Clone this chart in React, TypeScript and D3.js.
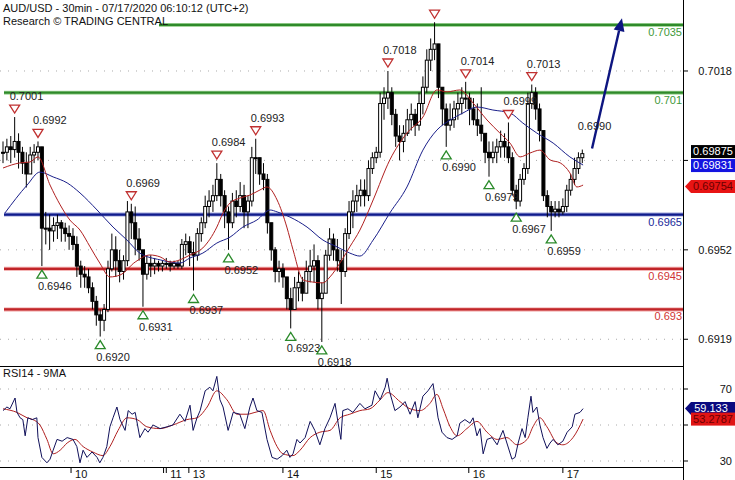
import * as d3 from "d3";

// hourly candles, values in pips above 0.6900
const highs = [
  92, 93, 94, 101, 95, 90, 88, 90, 91, 92, 90, 66, 65, 64, 65, 63, 62, 61, 60, 57,
  48, 46, 45, 40, 35, 30, 32, 48, 58, 57, 52, 50, 70, 69, 68, 60, 52, 50, 50, 49,
  48, 48, 49, 48, 48, 48, 56, 58, 57, 55, 60, 64, 72, 74, 76, 84, 80, 74, 68, 73,
  74, 77, 76, 72, 90, 93, 86, 84, 80, 62, 53, 48, 47, 42, 38, 42, 44, 42, 48, 52,
  54, 50, 40, 52, 60, 58, 56, 52, 60, 70, 74, 76, 78, 78, 85, 88, 90, 110, 112, 118,
  112, 104, 98, 98, 104, 106, 104, 110, 116, 126, 130, 136, 128, 112, 106, 106, 107, 110, 112, 114,
  110, 108, 106, 112, 95, 92, 92, 93, 96, 95, 99, 88, 76, 80, 84, 110, 113, 112, 106, 96,
  74, 70, 70, 70, 71, 76, 80, 86, 88, 89,
];
const lows = [
  84, 85, 84, 86, 82, 80, 75, 80, 84, 85, 46, 54, 52, 55, 56, 55, 55, 52, 52, 42,
  38, 38, 36, 30, 24, 20, 22, 29, 44, 42, 40, 41, 46, 56, 50, 48, 31, 41, 42, 43,
  44, 44, 45, 44, 45, 45, 45, 50, 46, 37, 48, 55, 60, 64, 66, 70, 68, 60, 52, 60,
  64, 66, 60, 60, 68, 80, 76, 74, 58, 48, 40, 40, 38, 30, 23, 30, 33, 33, 36, 40,
  40, 30, 18, 36, 48, 48, 44, 32, 42, 56, 60, 66, 68, 68, 70, 80, 84, 86, 100, 104,
  98, 90, 85, 88, 94, 96, 94, 96, 102, 110, 118, 122, 108, 98, 90, 96, 97, 100, 102, 104,
  98, 98, 94, 92, 84, 79, 84, 84, 86, 86, 84, 72, 67, 68, 76, 80, 104, 100, 92, 70,
  64, 59, 64, 64, 65, 66, 72, 76, 80, 84,
];
const closes = [
  88, 90, 89, 92, 88, 84, 80, 87, 88, 90, 60, 60, 59, 61, 62, 60, 58, 57, 54, 46,
  43, 42, 38, 33, 28, 26, 30, 45, 52, 48, 44, 48, 66, 62, 56, 52, 43, 47, 46, 47,
  46, 47, 47, 46, 47, 46, 54, 55, 51, 50, 58, 62, 68, 70, 72, 78, 72, 66, 62, 70,
  68, 72, 66, 70, 86, 86, 80, 78, 62, 52, 44, 45, 42, 34, 30, 38, 40, 36, 44, 46,
  48, 34, 36, 50, 56, 52, 48, 44, 58, 66, 70, 72, 74, 72, 82, 86, 88, 106, 108, 110,
  102, 94, 92, 95, 100, 102, 98, 106, 112, 122, 126, 128, 112, 104, 98, 100, 104, 106, 108, 108,
  104, 100, 98, 95, 88, 86, 88, 90, 92, 90, 86, 74, 70, 78, 82, 106, 110, 104, 96, 72,
  68, 66, 67, 66, 68, 74, 78, 82, 86, 87.5,
];

// moving averages on price: [bar, pips]
const redMA: [number, number][] = [
  [0, 82.2], [4.4, 84.1], [6.9, 84.4], [9, 86.3], [12.1, 75.9], [14.7, 68.6], [17.2, 63],
  [19.8, 59.3], [22.4, 53.1], [24.9, 47.1], [27.5, 42], [30.1, 42.7], [34, 47.5], [37.8, 50.1],
  [40.4, 49.4], [43, 47.5], [45.5, 48.3], [48.1, 50.1], [51.4, 52.7], [55, 60.4], [56.6, 65.6],
  [58.4, 69.3], [60.9, 71.1], [63.5, 72.2], [66.1, 74.1], [67.9, 75.2], [70.5, 70.4], [73, 60.4],
  [74.6, 52], [77.2, 40.9], [79.7, 40.1], [82.3, 39.8], [84.1, 42], [86.7, 47.2], [89.2, 53.1],
  [91.8, 59.3], [95.2, 70.4], [99.5, 85.2], [103.9, 95.1], [108, 101], [111.6, 111], [114.2, 110.3],
  [117.5, 111], [120.9, 106.2], [124.5, 99.9], [127.8, 95.1], [130.4, 91.4], [133, 86.3],
  [135.5, 87.7], [138.1, 88.8], [140.7, 85.2], [143.3, 84.1], [145.8, 80.4], [147.6, 75.2], [149.2, 75.9],
];
const blueMA: [number, number][] = [
  [0.5, 65.6], [6.2, 75.9], [9.5, 80.7], [12.9, 78.9], [16.5, 76.7], [19.8, 73], [24.2, 66.7],
  [28.3, 60.4], [31.9, 55.6], [35.2, 50.8], [40.4, 48.3], [45.5, 47.1], [48.1, 49], [51.4, 50.8],
  [55, 54.5], [58.4, 56.7], [61.7, 60.4], [65.3, 63], [68.7, 66.7], [70.5, 66], [73.8, 64.1],
  [78.2, 60.4], [82.3, 55.6], [85.9, 53.1], [89.2, 50.8], [91.8, 49.7], [95.2, 55.6], [99.5, 65.6],
  [103.9, 75.2], [108, 88.8], [111.6, 96.2], [115, 99.9], [118.3, 102.5], [121.9, 104.7],
  [126, 103.6], [130.4, 102.5], [133.7, 98.8], [137.3, 95.1], [141.5, 91.4], [145.8, 86.3], [149.2, 83.3],
];

// RSI14 and its 9MA: [bar, value]
const rsi: [number, number][] = [
  [0, 58], [1, 60], [1.8, 59], [3.1, 65], [3.6, 57], [4.4, 54], [5.1, 53], [5.7, 44], [6.4, 54],
  [7.5, 53], [8.7, 54], [9, 43], [10, 32], [11.3, 29], [12.1, 31], [12.9, 36], [13.9, 42],
  [15.2, 41], [16.5, 43], [18, 42], [19, 38], [19.8, 29], [20.6, 36], [21.6, 32], [22.9, 35],
  [24.2, 32], [24.9, 29], [25.7, 32], [26.7, 38], [27.5, 49], [28.3, 54], [29.3, 60], [30.1, 53],
  [31.4, 47], [32.2, 58], [33.2, 56], [34, 57], [35.2, 43], [36.5, 48], [37.3, 46], [38.6, 50],
  [40.4, 48], [42.2, 49], [43.7, 50], [45.5, 56], [46.8, 52], [48.1, 61], [48.9, 47], [49.9, 54],
  [50.7, 58], [52, 69], [53.2, 71], [54, 69], [55, 77], [55.8, 64], [56.6, 60], [57.9, 47],
  [59.2, 57], [60.9, 56], [62.2, 48], [63.5, 60], [64.3, 65], [65.3, 58], [66.6, 57], [67.9, 42],
  [69.2, 32], [70.5, 31], [71.8, 33], [73, 36], [73.8, 32], [74.6, 34], [75.6, 42], [76.4, 40],
  [77.7, 43], [79, 52], [80.2, 47], [81.5, 39], [82.8, 48], [84.1, 54], [85.4, 62], [86.2, 51],
  [86.9, 42], [87.4, 58], [88.7, 59], [90, 57], [91.8, 62], [93.1, 59], [94.9, 61], [95.7, 69],
  [97, 64], [98.3, 71], [98.8, 76], [99.5, 68], [100.8, 58], [102.1, 60], [103.4, 63], [104.7, 56],
  [106, 63], [106.7, 54], [108, 66], [109.3, 69], [110.6, 73], [111.1, 66], [111.9, 54], [112.9, 46],
  [114.2, 43], [115.5, 42], [116.8, 44], [117.5, 51], [118.8, 53], [120.1, 51], [120.9, 54],
  [121.9, 44], [122.7, 48], [123.5, 34], [124.5, 42], [125.8, 43], [127.1, 39], [127.8, 43],
  [128.6, 47], [129.6, 40], [130.9, 31], [131.7, 32], [132.5, 40], [133.5, 48], [134.3, 43],
  [135, 54], [135.8, 66], [136.3, 57], [137.3, 60], [138.1, 50], [138.9, 43], [139.9, 37],
  [140.7, 40], [141.5, 42], [142.7, 39], [144, 41], [145.1, 46], [146.4, 49], [147.1, 56],
  [148.4, 57], [149.2, 59.1],
];
const rsiMA: [number, number][] = [
  [0, 59], [3.6, 57], [6.2, 54], [7.7, 53], [9.5, 50], [11.3, 42], [12.9, 34], [14.7, 36],
  [16.5, 40], [18.5, 42], [20.6, 38], [23.1, 35], [25.7, 33], [27.5, 38], [29.6, 47], [31.9, 54],
  [34.5, 53], [37, 49], [40.4, 48], [43.7, 50], [47.3, 53], [49.9, 54], [52.5, 60], [55, 69],
  [57.6, 64], [60.2, 56], [62.8, 56], [64.8, 57], [66.9, 58], [68.7, 47], [70.5, 38], [72, 34],
  [74.6, 33], [76.4, 36], [79, 43], [81.5, 46], [84.1, 47], [86.7, 54], [89.2, 56], [91.8, 58],
  [94.4, 59], [97, 64], [99, 68], [102.1, 63], [104.7, 59], [107.3, 58], [109.8, 62], [111.6, 67],
  [113.2, 59], [115, 49], [116.8, 44], [119.3, 48], [121.9, 52], [124.5, 46], [127.1, 42],
  [129.6, 43], [132.2, 39], [134.8, 42], [136.3, 49], [138.1, 54], [139.9, 49], [142.5, 40],
  [144, 39], [146.6, 43], [149.2, 53.3],
];

// support / resistance levels
const levelPrices = [0.7035, 0.701, 0.6965, 0.6945, 0.693];
const levelLabels = ["0.7035", "0.701", "0.6965", "0.6945", "0.693"];
const levelKinds = ["res", "res", "pivot", "sup", "sup"];

// swing markers
const markerBars = [3, 9, 10, 25, 33, 36, 49, 55, 58, 65, 74, 82, 99, 111, 114, 119, 125, 130, 132, 136, 141];
const markerKinds = ["H", "H", "L", "L", "H", "L", "L", "H", "L", "H", "L", "L", "H", "H", "L", "H", "L", "H", "L", "H", "L"];
const markerLabels = [
  "0.7001", "0.6992", "0.6946", "0.6920", "0.6969", "0.6931", "0.6937", "0.6984", "0.6952", "0.6993",
  "0.6923", "0.6918", "0.7018", "", "0.6990", "0.7014", "0.6979", "0.6999", "0.6967", "0.7013", "0.6959",
];

// axis ticks (labels hidden behind the value tags are left empty)
const priceTicks = [0.7018, 0.6985, 0.6952, 0.6919];
const priceTickLabels = ["0.7018", "", "0.6952", "0.6919"];
const rsiTicks = [70, 50, 30];
const rsiTickLabels = ["70", "", "30"];
const dayTickBars = [17.5, 41.3, 42, 47.8, 72, 96, 119.8, 144];
const dayTickLabels = ["10", "", "11", "13", "14", "15", "16", "17"];

const lastClose = 0.69875;
const lastBlue = 0.69831;
const lastRed = 0.69754;
const lastRsi = 59.133;
const lastRsiMA = 53.2787;
const targetLabel = "0.6990";
const forecast: [number, number][] = [[151.5, 89.4], [159.2, 137.5]];

export default function App() {
  const W = 735;
  const H = 480;
  const axisX = 683;
  const font = "'Liberation Sans', Arial, sans-serif";
  const x = d3.scaleLinear().domain([0, 150]).range([3, 586.2]);
  const y = d3.scaleLinear().domain([0.69095, 0.70442]).range([365, 0]);
  const yr = d3.scaleLinear().domain([26.67, 82.78]).range([467, 366]);
  const px = (p: number) => 0.69 + p / 10000;
  const bw = 3;

  const candles = closes.map((c, i) => ({
    i,
    o: i === 0 ? c : closes[i - 1],
    h: highs[i],
    l: lows[i],
    c,
  }));

  const maLine = d3
    .line<[number, number]>()
    .x((d) => x(d[0]))
    .y((d) => y(px(d[1])))
    .curve(d3.curveMonotoneX);
  const rsiLine = d3
    .line<[number, number]>()
    .x((d) => x(d[0]))
    .y((d) => yr(d[1]));
  const rsiMALine = d3
    .line<[number, number]>()
    .x((d) => x(d[0]))
    .y((d) => yr(d[1]))
    .curve(d3.curveMonotoneX);

  const levelColor: Record<string, [string, string, string]> = {
    res: ["#2f8a2a", "#a8d8a0", "#3f9a3a"],
    pivot: ["#101c8c", "#9aa0d8", "#1a2a9a"],
    sup: ["#c02428", "#f0a0a0", "#d03434"],
  };

  // forecast arrow
  const [fa, fb] = forecast;
  const ax1 = x(fa[0]), ay1 = y(px(fa[1]));
  const ax2 = x(fb[0]), ay2 = y(px(fb[1]));
  const ang = Math.atan2(ay2 - ay1, ax2 - ax1);
  const headLen = 13, headW = 5.5;
  const bx = ax2 - headLen * Math.cos(ang);
  const by = ay2 - headLen * Math.sin(ang);
  const head = [
    [ax2, ay2],
    [bx + headW * Math.sin(ang), by - headW * Math.cos(ang)],
    [bx - headW * Math.sin(ang), by + headW * Math.cos(ang)],
  ]
    .map((p) => p.join(","))
    .join(" ");

  const yBlue = y(lastBlue);
  const yRed = y(lastRed);
  const yClose = Math.min(y(lastClose), yBlue - 14);

  const arrowTag = (cy: number) =>
    `M685,${cy} L691,${cy - 6.5} L735,${cy - 6.5} L735,${cy + 6.5} L691,${cy + 6.5} Z`;

  return (
    <svg
      width={W}
      height={H}
      style={{ position: "absolute", left: 0, top: 0, background: "#fff" }}
      fontFamily={font}
      fontSize={11}
    >
      <defs>
        <clipPath id="pricePanel">
          <rect x={0} y={0} width={axisX} height={366} />
        </clipPath>
        <clipPath id="rsiPanel">
          <rect x={0} y={367} width={axisX} height={100} />
        </clipPath>
      </defs>
      <rect width={W} height={H} fill="#fff" />

      {/* grid */}
      {priceTicks.map((t) => (
        <line key={"pg" + t} x1={0} x2={axisX} y1={y(t)} y2={y(t)} stroke="#aaa" strokeDasharray="1 7" />
      ))}
      {rsiTicks.map((t) => (
        <line key={"rg" + t} x1={0} x2={axisX} y1={yr(t)} y2={yr(t)} stroke="#aaa" strokeDasharray="1 7" />
      ))}

      <g clipPath="url(#pricePanel)">
        {/* levels */}
        {levelPrices.map((p, k) => {
          const [c, halo] = levelColor[levelKinds[k]];
          return (
            <g key={"lv" + k}>
              <line x1={4} x2={axisX} y1={y(p)} y2={y(p)} stroke={halo} strokeWidth={4} />
              <line x1={4} x2={axisX} y1={y(p)} y2={y(p)} stroke={c} strokeWidth={2.2} />
            </g>
          );
        })}

        {/* candles */}
        {candles.map((d) => {
          const top = y(px(Math.max(d.o, d.c)));
          const bot = y(px(Math.min(d.o, d.c)));
          const up = d.c > d.o;
          return (
            <g key={"c" + d.i}>
              <line x1={x(d.i)} x2={x(d.i)} y1={y(px(d.h))} y2={y(px(d.l))} stroke="#000" strokeWidth={1} />
              <rect
                x={x(d.i) - bw / 2}
                y={top}
                width={bw}
                height={Math.max(1, bot - top)}
                fill={up ? "#fff" : "#000"}
                stroke="#000"
                strokeWidth={1}
              />
            </g>
          );
        })}

        {/* moving averages */}
        <path d={maLine(blueMA) ?? ""} fill="none" stroke="#1a1f8a" strokeWidth={1} />
        <path d={maLine(redMA) ?? ""} fill="none" stroke="#b02020" strokeWidth={1} />

        {/* swing markers */}
        {markerBars.map((b, k) => {
          const cx = x(b);
          if (markerKinds[k] === "H") {
            const t = y(px(highs[b])) - 12;
            return (
              <g key={"m" + k}>
                <polygon
                  points={`${cx - 5},${t} ${cx + 5},${t} ${cx},${t + 8}`}
                  fill="#fff"
                  stroke="#c03030"
                  strokeWidth={1.3}
                />
                <text x={cx - 5} y={t - 5} fill="#222">
                  {markerLabels[k]}
                </text>
              </g>
            );
          }
          const t = y(px(lows[b])) + 4;
          return (
            <g key={"m" + k}>
              <polygon
                points={`${cx},${t} ${cx - 5},${t + 8} ${cx + 5},${t + 8}`}
                fill="#fff"
                stroke="#2a8a2a"
                strokeWidth={1.3}
              />
              <text x={cx - 4} y={t + 20} fill="#222">
                {markerLabels[k]}
              </text>
            </g>
          );
        })}

        {/* forecast arrow */}
        <line x1={ax1} y1={ay1} x2={bx} y2={by} stroke="#0d1580" strokeWidth={2.4} />
        <polygon points={head} fill="#0d1580" />
        <text x={x(147.8)} y={y(px(90)) - 17} fill="#222">
          {targetLabel}
        </text>

        {/* level labels */}
        {levelPrices.map((p, k) => (
          <text key={"ll" + k} x={axisX - 1} y={y(p) + 11} textAnchor="end" fill={levelColor[levelKinds[k]][2]}>
            {levelLabels[k]}
          </text>
        ))}
      </g>

      {/* title */}
      <rect x={0} y={14} width={159} height={14} fill="#fff" />
      <text x={3} y={12} fill="#111">
        AUD/USD - 30min - 07/17/2020 06:10:12 (UTC+2)
      </text>
      <text x={3} y={25} fill="#111">
        Research © TRADING CENTRAL
      </text>

      {/* RSI panel */}
      <line x1={0} x2={axisX} y1={366.5} y2={366.5} stroke="#000" />
      <line x1={0} x2={axisX} y1={467.5} y2={467.5} stroke="#000" />
      <text x={3} y={377} fill="#111">
        RSI14 - 9MA
      </text>
      <g clipPath="url(#rsiPanel)">
        <path d={rsiMALine(rsiMA) ?? ""} fill="none" stroke="#b02020" strokeWidth={1} />
        <path d={rsiLine(rsi) ?? ""} fill="none" stroke="#10105a" strokeWidth={1} />
      </g>

      {/* right axis */}
      <line x1={axisX + 0.5} x2={axisX + 0.5} y1={0} y2={H} stroke="#000" />
      {priceTicks.map((t, k) => (
        <g key={"pt" + t}>
          <line x1={axisX} x2={axisX + 5} y1={y(t)} y2={y(t)} stroke="#000" />
          {priceTickLabels[k] && (
            <text x={732} y={y(t)} dy="0.35em" textAnchor="end" fill="#111">
              {priceTickLabels[k]}
            </text>
          )}
        </g>
      ))}
      {rsiTicks.map((t, k) => (
        <g key={"rt" + t}>
          <line x1={axisX} x2={axisX + 5} y1={yr(t)} y2={yr(t)} stroke="#000" />
          {rsiTickLabels[k] && (
            <text x={732} y={yr(t)} dy="0.35em" textAnchor="end" fill="#111">
              {rsiTickLabels[k]}
            </text>
          )}
        </g>
      ))}

      {/* value tags */}
      <rect x={691} y={yClose - 6.5} width={44} height={13} fill="#000" />
      <text x={713} y={yClose} dy="0.35em" textAnchor="middle" fill="#fff">
        {lastClose.toFixed(5)}
      </text>
      <rect x={691} y={yBlue - 6.5} width={44} height={13} fill="#1414e0" />
      <text x={713} y={yBlue} dy="0.35em" textAnchor="middle" fill="#fff">
        {lastBlue.toFixed(5)}
      </text>
      <path d={arrowTag(yRed)} fill="#e81414" />
      <text x={713} y={yRed} dy="0.35em" textAnchor="middle" fill="#6a0000">
        {lastRed.toFixed(5)}
      </text>
      <path d={arrowTag(yr(lastRsi))} fill="#0a0a80" />
      <text x={711} y={yr(lastRsi)} dy="0.35em" textAnchor="middle" fill="#fff">
        {lastRsi.toString()}
      </text>
      <rect x={691} y={yr(lastRsiMA) - 6.5} width={44} height={13} fill="#e01414" />
      <text x={713} y={yr(lastRsiMA)} dy="0.35em" textAnchor="middle" fill="#6a0000">
        {lastRsiMA.toString()}
      </text>

      {/* day axis */}
      {dayTickBars.map((b, k) => (
        <g key={"dt" + k}>
          <line x1={x(b)} x2={x(b)} y1={467} y2={473} stroke="#000" />
          <text x={x(b) + 4} y={478} fill="#111">
            {dayTickLabels[k]}
          </text>
        </g>
      ))}
    </svg>
  );
}
